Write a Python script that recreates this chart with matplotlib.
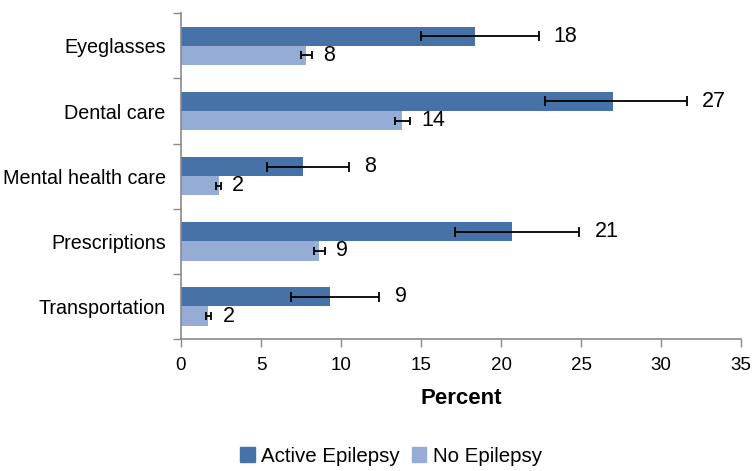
import matplotlib
matplotlib.use("Agg")
import matplotlib.pyplot as plt
import numpy as np
from matplotlib.patches import Patch

plt.rcParams['font.family'] = ['Liberation Sans', 'DejaVu Sans']

categories = ["Eyeglasses", "Dental care", "Mental health care", "Prescriptions", "Transportation"]
active = [18.4, 27.0, 7.6, 20.7, 9.3]
active_lo = [15.0, 22.75, 5.4, 17.1, 6.9]
active_hi = [22.35, 31.6, 10.5, 24.9, 12.4]
none = [7.8, 13.8, 2.4, 8.6, 1.7]
none_lo = [7.5, 13.4, 2.2, 8.3, 1.55]
none_hi = [8.2, 14.3, 2.5, 9.0, 1.9]
series_names = ["Active Epilepsy", "No Epilepsy"]
xticks = [0, 5, 10, 15, 20, 25, 30, 35]

c_active = "#4672A8"
c_none = "#95ADD5"
axis_gray = "#8A8A8A"

fig = plt.figure(figsize=(7.56, 4.71), dpi=100)
ax = fig.add_axes([181/756, 1-339/471, (741-181)/756, (339-13.3)/471])

y = np.arange(len(categories))
h = 0.295
a = np.array(active); n = np.array(none)
ax.barh(y - h/2, a, height=h, color=c_active, zorder=2)
ax.barh(y + h/2, n, height=h, color=c_none, zorder=2)

a_err = np.array([a - np.array(active_lo), np.array(active_hi) - a])
n_err = np.array([n - np.array(none_lo), np.array(none_hi) - n])
ax.errorbar(a, y - h/2, xerr=a_err, fmt='none', ecolor='black', elinewidth=1.3,
            capsize=3.3, capthick=1.3, zorder=3)
ax.errorbar(n, y + h/2, xerr=n_err, fmt='none', ecolor='black', elinewidth=1.3,
            capsize=3.0, capthick=1.3, zorder=3)

for yi, v, hi in zip(y, active, active_hi):
    ax.text(hi + 0.95, yi - h/2, f"{v:.0f}", va='center', ha='left', fontsize=15.5)
for yi, v, hi in zip(y, none, none_hi):
    ax.text(hi + 0.7, yi + h/2, f"{v:.0f}", va='center', ha='left', fontsize=15.5)

ax.set_xlim(0, 35)
ax.set_ylim(len(categories) - 0.5, -0.5)
ax.set_xticks(xticks)
ax.set_xticklabels([str(t) for t in xticks], fontsize=13.5)
ax.set_yticks(y)
ax.set_yticklabels(categories, fontsize=14.2)
ax.set_yticks(np.arange(-0.5, len(categories)), minor=True)
ax.tick_params(axis='y', which='major', length=0, pad=11)
ax.tick_params(axis='y', which='minor', length=6, color=axis_gray, width=1, direction='out')
ax.tick_params(axis='x', length=6, color=axis_gray, width=1, direction='out', pad=7)

for s in ['top', 'right']:
    ax.spines[s].set_visible(False)
for s in ['left', 'bottom']:
    ax.spines[s].set_color(axis_gray)
    ax.spines[s].set_linewidth(1.2)

ax.set_xlabel("Percent", fontsize=16, fontweight='bold', labelpad=10)

handles = [Patch(color=c_active), Patch(color=c_none)]
fig.legend(handles, series_names, loc='center', bbox_to_anchor=(391/756, 1-456/471), ncol=2,
           frameon=False, fontsize=14.8, handlelength=0.7, handleheight=0.7,
           handletextpad=0.3, columnspacing=0.6)

fig.savefig("out.png", dpi=100)
